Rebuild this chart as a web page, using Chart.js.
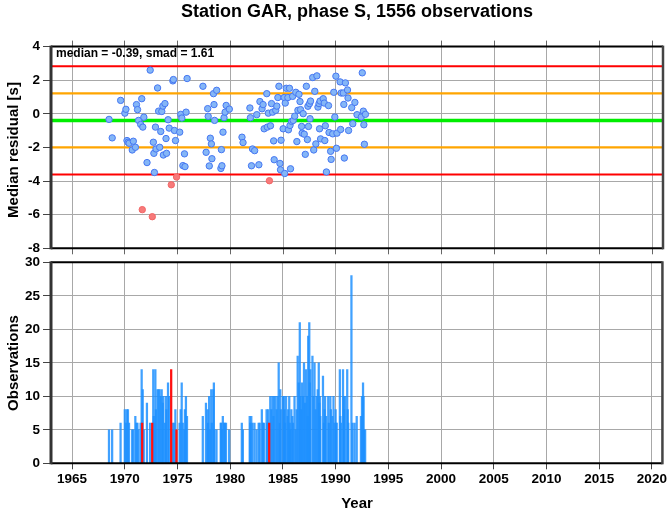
<!DOCTYPE html>
<html><head><meta charset="utf-8">
<script src="https://cdn.jsdelivr.net/npm/chart.js@4/dist/chart.umd.min.js"></script>
<style>
body{margin:0;background:#fff;width:669px;height:511px;overflow:hidden;position:relative;font-family:"Liberation Sans",Arial,sans-serif;}
canvas{position:absolute;left:0;top:0;}
.t{position:absolute;font-weight:bold;color:#000;white-space:nowrap;}
.rot{transform:translate(-50%,-50%) rotate(-90deg);}
</style></head><body>
<canvas id="c1" width="669" height="511"></canvas>
<canvas id="c2" width="669" height="511"></canvas>
<div class="t" style="left:0;width:714px;text-align:center;top:1px;font-size:18px;">Station GAR, phase S, 1556 observations</div>
<div class="t" style="left:56px;top:46px;font-size:12px;">median = -0.39, smad = 1.61</div>
<div class="t rot" style="left:12px;top:150px;font-size:15px;">Median residual [s]</div>
<div class="t rot" style="left:12px;top:363px;font-size:15px;">Observations</div>
<div class="t" style="left:0;width:714px;text-align:center;top:494px;font-size:15px;">Year</div>
<script>
// ---- data ----
const years = [1968.5,1968.8,1969.6,1970.0,1970.1,1970.2,1970.3,1970.4,1970.7,1970.8,
1971.0,1971.1,1971.2,1971.3,1971.5,1971.6,1971.65,1971.7,1971.8,1972.1,
1972.4,1972.6,1972.7,1972.75,1972.8,1972.9,1972.95,1973.1,1973.2,1973.3,
1973.4,1973.5,1973.6,1973.65,1973.8,1973.9,1973.95,1974.1,1974.2,1974.4,
1974.55,1974.6,1974.7,1974.8,1974.9,1975.2,1975.3,1975.4,1975.5,1975.65,
1975.7,1975.8,1975.9,1977.4,1977.7,1977.85,1977.9,1978.0,1978.1,1978.2,
1978.25,1978.4,1978.45,1978.5,1978.7,1979.1,1979.15,1979.2,1979.3,1979.4,
1979.5,1979.6,1979.9,1981.1,1981.2,1981.85,1981.9,1982.0,1982.1,1982.3,
1982.5,1982.7,1982.8,1983.0,1983.1,1983.2,1983.45,1983.5,1983.6,1983.7,
1983.8,1983.9,1984.0,1984.1,1984.15,1984.3,1984.4,1984.5,1984.6,1984.7,
1984.75,1984.8,1985.0,1985.1,1985.15,1985.2,1985.3,1985.45,1985.5,1985.6,
1985.65,1985.7,1985.8,1985.9,1985.95,1986.1,1986.2,1986.3,1986.4,1986.5,
1986.6,1986.65,1986.75,1986.8,1986.9,1987.0,1987.1,1987.2,1987.3,1987.35,
1987.4,1987.5,1987.55,1987.6,1987.8,1987.9,1988.0,1988.1,1988.2,1988.3,
1988.4,1988.45,1988.5,1988.55,1988.8,1988.9,1988.95,1989.0,1989.1,1989.3,
1989.35,1989.5,1989.55,1989.7,1989.8,1989.9,1990.0,1990.05,1990.1,1990.4,
1990.45,1990.5,1990.7,1990.75,1990.8,1990.9,1991.1,1991.15,1991.2,1991.5,
1991.6,1991.8,1992.0,1992.4,1992.5,1992.6,1992.65,1992.7,1992.8];
const residuals = [-0.33,-1.43,0.80,0.04,0.27,-1.59,-1.69,-1.75,-2.15,-1.63,
-1.99,0.55,0.25,-0.39,-0.63,0.90,-5.70,-0.79,-0.20,-2.90,
2.60,-6.12,-1.69,-2.35,-3.49,-0.79,-2.09,1.54,0.16,-1.99,
-1.05,0.14,0.46,-2.45,0.61,-1.47,-2.35,-0.35,-0.85,-4.22,
1.96,2.04,-0.99,-1.59,-3.76,-1.09,-0.03,-0.25,-3.08,-2.38,
-3.14,0.10,2.10,1.64,-2.29,0.31,-0.15,-3.10,-1.45,-1.79,
-2.67,1.20,0.55,-0.39,1.40,-3.25,-2.13,-3.09,-1.09,-0.23,
0.10,0.50,0.28,-1.39,-1.71,0.35,-0.23,-3.09,-2.09,-2.19,
-0.05,-3.03,0.73,0.30,0.55,-0.89,1.20,-0.79,0.04,-3.98,
-0.71,0.61,0.10,-1.61,-2.73,0.21,0.46,0.97,1.64,-2.95,
-3.33,-1.57,-0.89,0.97,-3.55,0.64,1.52,0.97,-0.95,1.52,
-0.69,-3.27,-0.45,1.04,-0.39,-0.14,1.28,-1.65,0.21,1.16,
0.73,0.25,-0.75,-1.15,0.01,-1.21,-2.41,1.64,-1.53,0.45,
-0.75,0.61,-0.29,0.76,2.16,-2.15,1.34,-1.79,2.26,0.40,
0.61,-0.89,0.76,-1.49,0.90,0.64,-1.59,-0.71,-3.46,0.49,
-1.11,-2.23,-2.71,-1.19,1.28,-0.19,2.24,-2.05,-1.15,1.90,
-0.93,1.24,1.24,0.56,-2.63,1.84,1.42,0.94,-0.99,0.37,
-0.59,0.68,-0.05,-0.19,2.44,0.16,-0.65,-1.81,-0.03];
const counts = [5,5,6,8,6,8,8,6,5,5,
7,6,6,5,6,14,6,11,5,9,
6,6,14,7,6,14,8,11,11,11,
10,11,9,10,6,10,8,12,10,14,
6,5,6,8,5,6,8,12,6,5,
8,10,7,7,9,8,6,10,5,11,
6,11,12,5,5,6,6,5,7,6,
6,6,5,6,5,7,6,7,6,6,
5,6,6,8,6,6,8,6,8,6,
10,8,10,7,10,10,8,10,15,6,
11,8,10,10,8,6,10,7,8,10,
6,5,8,7,6,10,5,8,16,12,
21,10,8,12,10,15,9,14,10,7,
19,21,12,14,16,10,15,8,10,11,
15,9,10,7,13,6,8,10,7,10,
6,10,8,7,10,6,8,6,6,14,
7,6,14,10,8,10,14,8,6,28,
6,6,7,7,10,12,10,5,5];
const medianValue = -0.39;
const smadValue = 1.61;
const yearTicks = [1965,1970,1975,1980,1985,1990,1995,2000,2005,2010,2015,2020];
const yearMin = 1963, yearMax = 2021;
const residualTicks = [-8,-6,-4,-2,0,2,4];
const countTicks = [0,5,10,15,20,25,30];

// ---- derived ----
const hiLim = medianValue + 2*smadValue, loLim = medianValue - 2*smadValue;
const isOut = r => r > hiLim || r < loLim;
const inPts = [], outPts = [], inBars = [], outBars = [];
years.forEach((x,i)=>{
  const out = isOut(residuals[i]);
  (out ? outPts : inPts).push({x:x, y:residuals[i]});
  (out ? outBars : inBars).push({x:x, y:counts[i]});
});
const hline = (v) => [{x:yearMin,y:v},{x:yearMax,y:v}];

Chart.defaults.font.family = '"Liberation Sans", Arial, sans-serif';
const tickFont = {size:13.5, weight:'bold'};
const gridCol = '#a8a8a8';

const frame = {id:'frame', afterDraw(chart){
  const {ctx, chartArea:a} = chart;
  ctx.save();
  ctx.strokeStyle = '#000'; ctx.lineWidth = 2;
  ctx.beginPath(); ctx.moveTo(a.left, a.top); ctx.lineTo(a.right, a.top); ctx.stroke();
  ctx.beginPath(); ctx.moveTo(a.left, a.bottom); ctx.lineTo(a.right, a.bottom); ctx.stroke();
  ctx.strokeStyle = '#333'; ctx.lineWidth = 3;
  ctx.beginPath(); ctx.moveTo(a.left, a.top-1); ctx.lineTo(a.left, a.bottom+1); ctx.stroke();
  ctx.strokeStyle = '#444'; ctx.lineWidth = 2.5;
  ctx.beginPath(); ctx.moveTo(a.right, a.top-1); ctx.lineTo(a.right, a.bottom+1); ctx.stroke();
  ctx.restore();
}};

const setTicks = (arr) => (s) => { s.ticks = arr.map(v=>({value:v})); };

new Chart(document.getElementById('c1'), {
  type:'scatter',
  data:{datasets:[
    {type:'line', data:hline(hiLim), borderColor:'#ff0000', borderWidth:2, pointRadius:0, order:5},
    {type:'line', data:hline(loLim), borderColor:'#ff0000', borderWidth:2, pointRadius:0, order:5},
    {type:'line', data:hline(medianValue+smadValue), borderColor:'#ffa500', borderWidth:2.2, pointRadius:0, order:5},
    {type:'line', data:hline(medianValue-smadValue), borderColor:'#ffa500', borderWidth:2.2, pointRadius:0, order:5},
    {type:'line', data:hline(medianValue), borderColor:'#00ee00', borderWidth:3.5, pointRadius:0, order:5},
    {data:inPts, backgroundColor:'#84b6f7', borderColor:'#4677f2', borderWidth:1, pointRadius:3.2, order:1},
    {data:outPts, backgroundColor:'#f77a7a', borderColor:'#f26666', borderWidth:1, pointRadius:3.2, order:1}
  ]},
  options:{
    responsive:false, animation:false, events:[],
    plugins:{legend:{display:false}, tooltip:{enabled:false}},
    layout:{padding:{top:38.6, left:0, right:6, bottom:254.7}},
    scales:{
      x:{type:'linear', min:yearMin, max:yearMax, afterBuildTicks:setTicks(yearTicks),
         afterFit:(s)=>{s.height=8;}, ticks:{display:false},
         grid:{color:gridCol, tickLength:6, tickColor:'#666'}, border:{display:false}},
      xTop:{type:'linear', axis:'x', position:'top', min:yearMin, max:yearMax, afterBuildTicks:setTicks(yearTicks),
         afterFit:(s)=>{s.height=8;}, ticks:{display:false},
         grid:{drawOnChartArea:false, tickLength:6, tickColor:'#666'}, border:{display:false}},
      y:{min:-8, max:4, afterBuildTicks:setTicks(residualTicks), afterFit:(s)=>{s.width=51;},
         ticks:{color:'#000', font:tickFont, padding:3},
         grid:{color:gridCol, tickLength:8, tickColor:'#444'}, border:{display:false}}
    }
  },
  plugins:[frame]
});

new Chart(document.getElementById('c2'), {
  type:'bar',
  data:{datasets:[
    {data:inBars, backgroundColor:'rgba(30,144,255,0.85)', barThickness:1.6, grouped:false, order:2},
    {data:outBars, backgroundColor:'#ff1010', barThickness:1.6, grouped:false, order:1}
  ]},
  options:{
    responsive:false, animation:false, events:[],
    plugins:{legend:{display:false}, tooltip:{enabled:false}},
    layout:{padding:{top:262.3, left:0, right:6, bottom:17.7}},
    scales:{
      x:{type:'linear', offset:false, min:yearMin, max:yearMax, afterBuildTicks:setTicks(yearTicks),
         afterFit:(s)=>{s.height=30;},
         ticks:{color:'#000', font:tickFont, padding:2, maxRotation:0, callback:(v)=>String(v)},
         grid:{offset:false, color:gridCol, tickLength:6, tickColor:'#444'}, border:{display:false}},
      y:{min:0, max:30, afterBuildTicks:setTicks(countTicks), afterFit:(s)=>{s.width=51;},
         ticks:{color:'#000', font:tickFont, padding:3},
         grid:{color:gridCol, tickLength:8, tickColor:'#444'}, border:{display:false}}
    }
  },
  plugins:[frame]
});
</script>
</body></html>
